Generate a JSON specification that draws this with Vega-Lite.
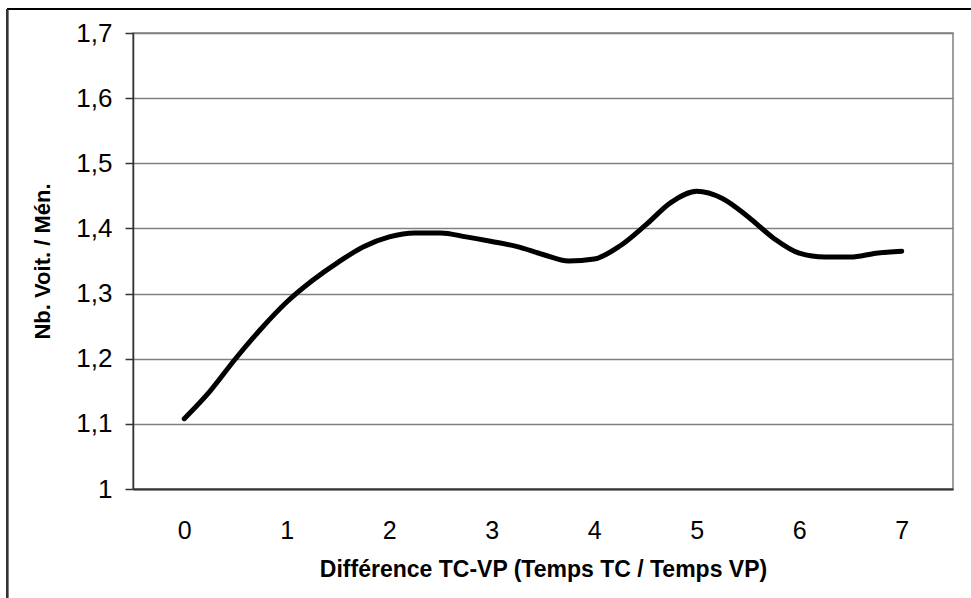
{
  "$schema": "https://vega.github.io/schema/vega-lite/v6.json",
  "autosize": "none",
  "width": 820,
  "height": 456,
  "padding": {"left": 133, "top": 33, "right": 18, "bottom": 109},
  "background": "white",
  "config": {
    "view": {"stroke": "#808080", "strokeWidth": 1.5},
    "font": "Liberation Sans"
  },
  "data": {
    "values": [
      {"diff": 0, "nb": 1.108},
      {"diff": 0.25, "nb": 1.15},
      {"diff": 0.5, "nb": 1.2},
      {"diff": 0.75, "nb": 1.246},
      {"diff": 1.0, "nb": 1.287},
      {"diff": 1.25, "nb": 1.32},
      {"diff": 1.5, "nb": 1.348},
      {"diff": 1.75, "nb": 1.372},
      {"diff": 2.0, "nb": 1.387},
      {"diff": 2.25, "nb": 1.393},
      {"diff": 2.5, "nb": 1.393},
      {"diff": 2.75, "nb": 1.387},
      {"diff": 3.0, "nb": 1.38},
      {"diff": 3.25, "nb": 1.372},
      {"diff": 3.5, "nb": 1.36},
      {"diff": 3.75, "nb": 1.35},
      {"diff": 4.0, "nb": 1.353},
      {"diff": 4.25, "nb": 1.373},
      {"diff": 4.5, "nb": 1.405},
      {"diff": 4.75, "nb": 1.44},
      {"diff": 5.0, "nb": 1.457},
      {"diff": 5.25, "nb": 1.446},
      {"diff": 5.5, "nb": 1.418},
      {"diff": 5.75, "nb": 1.385},
      {"diff": 6.0, "nb": 1.362},
      {"diff": 6.25, "nb": 1.356},
      {"diff": 6.5, "nb": 1.356},
      {"diff": 6.75, "nb": 1.362},
      {"diff": 7.0, "nb": 1.365}
    ]
  },
  "layer": [
    {
      "mark": {"type": "line", "color": "black", "strokeWidth": 5, "interpolate": "monotone", "strokeCap": "round", "strokeJoin": "round"},
      "encoding": {
        "x": {
          "field": "diff", "type": "quantitative",
          "scale": {"domain": [-0.5, 7.5], "nice": false, "zero": false},
          "axis": {
            "values": [0, 1, 2, 3, 4, 5, 6, 7],
            "format": "d",
            "grid": false, "ticks": false,
            "domainColor": "#333333", "domainWidth": 2,
            "labelFontSize": 25, "labelColor": "black", "labelPadding": 29, "labelFont": "Liberation Sans",
            "title": "Différence TC-VP (Temps TC / Temps VP)",
            "titleFontSize": 23, "titleFontWeight": "bold", "titleColor": "black", "titlePadding": 15, "titleFont": "Liberation Sans"
          }
        },
        "y": {
          "field": "nb", "type": "quantitative",
          "scale": {"domain": [1, 1.7], "nice": false, "zero": false},
          "axis": {
            "values": [1, 1.1, 1.2, 1.3, 1.4, 1.5, 1.6, 1.7],
            "labelExpr": "replace(format(datum.value, '.1~f'), '.', ',')",
            "grid": true, "gridColor": "#808080", "gridWidth": 1.5, "gridOpacity": 1,
            "ticks": true, "tickSize": 8, "tickColor": "#333333", "tickWidth": 1.5,
            "domainColor": "#333333", "domainWidth": 1.5,
            "labelFontSize": 26, "labelColor": "black", "labelPadding": 13, "labelFont": "Liberation Sans",
            "title": "Nb. Voit. / Mén.",
            "titleFontSize": 22, "titleFontWeight": "bold", "titleColor": "black", "titlePadding": 21, "titleFont": "Liberation Sans"
          }
        }
      }
    },
    {
      "mark": {"type": "rule", "color": "black", "strokeWidth": 2},
      "encoding": {
        "x": {"datum": -1.729},
        "x2": {"datum": 7.7},
        "y": {"datum": 1.737}
      }
    },
    {
      "mark": {"type": "rule", "color": "#333333", "strokeWidth": 2},
      "encoding": {
        "x": {"datum": -1.729},
        "y": {"datum": 1.737},
        "y2": {"datum": 0.83}
      }
    }
  ]
}
